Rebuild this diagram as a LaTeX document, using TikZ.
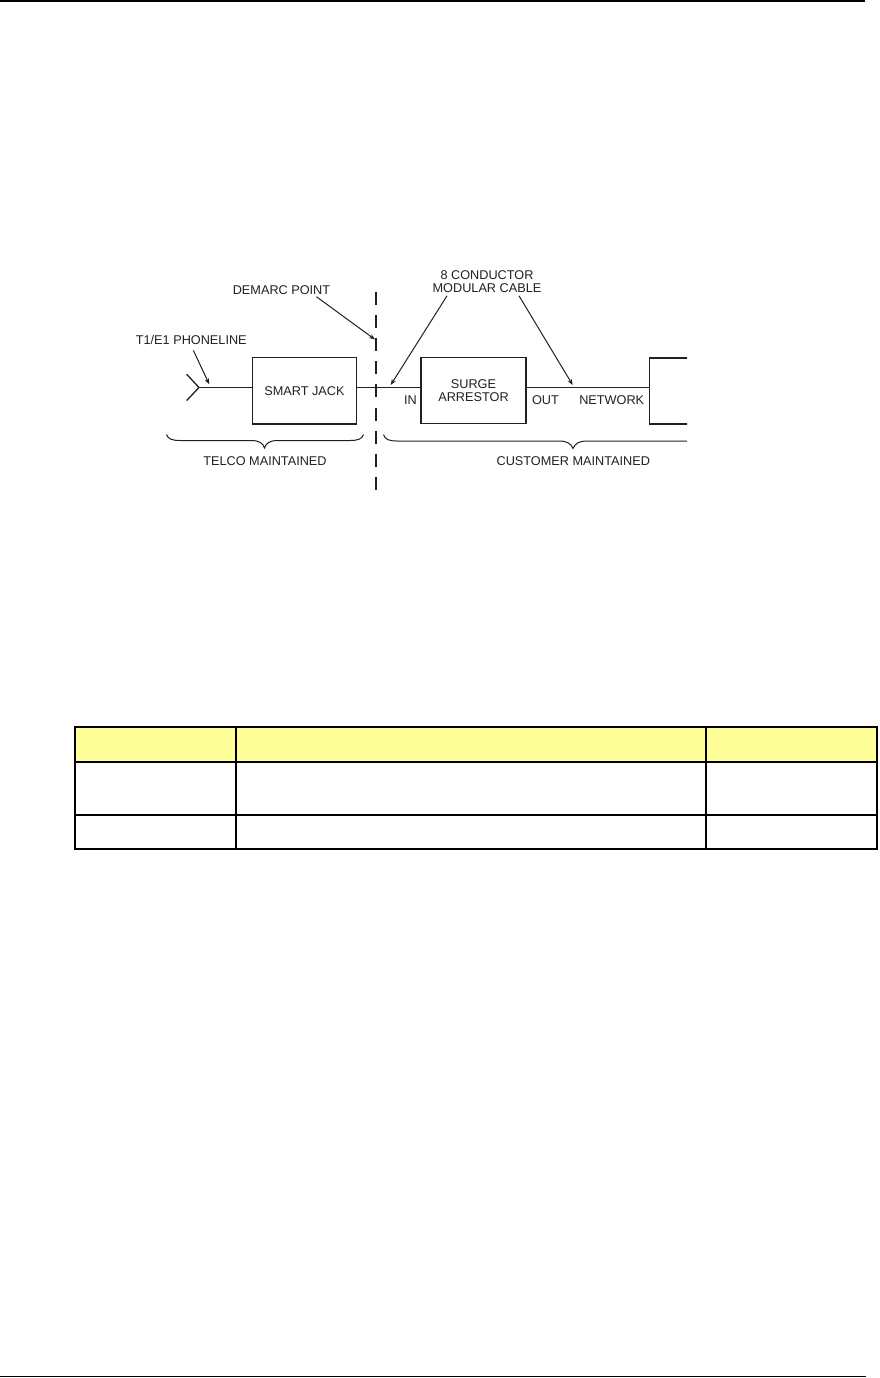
\documentclass[tikz,border=0pt]{standalone}
\usepackage{fontspec}
\setmainfont{Liberation Sans}
\usetikzlibrary{arrows.meta,calc}
\definecolor{hdr}{HTML}{FFFF99}
\definecolor{ink}{HTML}{202020}
\begin{document}
\begin{tikzpicture}[x=1pt,y=-1pt,
  lbl/.style={inner sep=0pt,text=ink,font=\fontsize{12.7}{13.2}\selectfont,align=center},
  boxnode/.style={draw=ink,line width=1.3pt,inner sep=0pt,text=ink,font=\fontsize{12.7}{13.2}\selectfont,align=center},
  wire/.style={draw=ink,line width=1.3pt},
  pointer/.style={draw=ink,line width=1pt,-{Stealth[length=6pt,width=4.5pt]}},
  bracepath/.style={draw=ink,line width=1pt},
  tline/.style={draw=black,line width=2pt}]
\useasboundingbox (0,0) rectangle (879,1378);
% page rules
\coordinate (rtl) at (0,1);
\coordinate (rtr) at (865,1);
\draw[line width=1.5pt] (rtl) -- (rtr);
\coordinate (rbl) at (0,1376.5);
\coordinate (rbr) at (866,1376.5);
\draw[line width=1.5pt] (rbl) -- (rbr);

% boxes
\node[boxnode,minimum width=104.4pt,minimum height=66.3pt] (jack) at (304.5,390.9) {SMART JACK};
\node[boxnode,minimum width=105pt,minimum height=65.6pt] (surge) at (473.5,390.5) {SURGE\\ARRESTOR};
\begin{scope}
\clip (0,0) rectangle (687,1378);
\node[draw=ink,line width=1.3pt,inner sep=0pt,minimum width=80pt,minimum height=66pt] (net) at (689.3,391) {};
\end{scope}

% fork and wires
\coordinate (fork) at (199,387.5);
\coordinate (forka) at (186.7,374.3);
\coordinate (forkb) at (186.7,400.5);
\draw[wire] (forka) -- (fork) -- (forkb);
\draw[wire] (fork) -- (fork -| jack.west);
\draw[wire] (jack.east |- fork) -- (surge.west |- fork);
\draw[wire] (surge.east |- fork) -- (net.west |- fork);

% demarc dashed line
\coordinate (dtop) at (376,292);
\coordinate (dbot) at (376,490);
\draw[draw=ink,line width=1.2pt,dash pattern=on 13pt off 10.1pt] (dtop) -- (dbot);

% labels
\node[lbl] (demarc) at (281.5,290) {DEMARC POINT};
\node[lbl] (t1) at (191.3,339.5) {T1/E1 PHONELINE};
\node[lbl] (cable) at (487,281.5) {8 CONDUCTOR\\MODULAR CABLE};
\node[lbl] (in) at (410.5,400) {IN};
\node[lbl] (out) at (545.5,400) {OUT};
\node[lbl] (network) at (611.7,400) {NETWORK};
\node[lbl] (telco) at (265,461.5) {TELCO MAINTAINED};
\node[lbl] (cust) at (573.3,461.5) {CUSTOMER MAINTAINED};

% arrow targets
\coordinate (t1tip) at (209.3,384.3);
\coordinate (dmtip) at (375,339.5);
\coordinate (intip) at (390.7,385);
\coordinate (outtip) at (572.7,385);

\draw[pointer] ($(t1.south)+(2,6)$) -- (t1tip);
\draw[pointer] ($(demarc.south east)+(-14,2)$) -- (dmtip);
\draw[pointer] ($(cable.south)+(-40,3)$) -- (intip);
\draw[pointer] ($(cable.south)+(32,3)$) -- (outtip);

% braces
\draw[bracepath] (166.5,434.5) .. controls (168,439) and (172,440.5) .. (180,440.5)
  -- (251,440.5) .. controls (259,440.5) and (263,443) .. (264.5,448)
  .. controls (266,443) and (270,440.5) .. (278,440.5)
  -- (350,440.5) .. controls (358,440.5) and (362,439) .. (363.5,434.5);
\draw[bracepath] (383.5,434.5) .. controls (385,439.5) and (389,441) .. (397,441)
  -- (559,441) .. controls (567,441) and (571,443.5) .. (573,448.5)
  .. controls (575,443.5) and (579,441) .. (587,441)
  -- (687,441);

% table
\fill[hdr] (75,727) rectangle (877,762);
\draw[tline] (75,727) rectangle (877,849);
\draw[tline] (75,762) -- (877,762);
\draw[tline] (75,815) -- (877,815);
\draw[tline] (236,727) -- (236,849);
\draw[tline] (706,727) -- (706,849);
\end{tikzpicture}
\end{document}
